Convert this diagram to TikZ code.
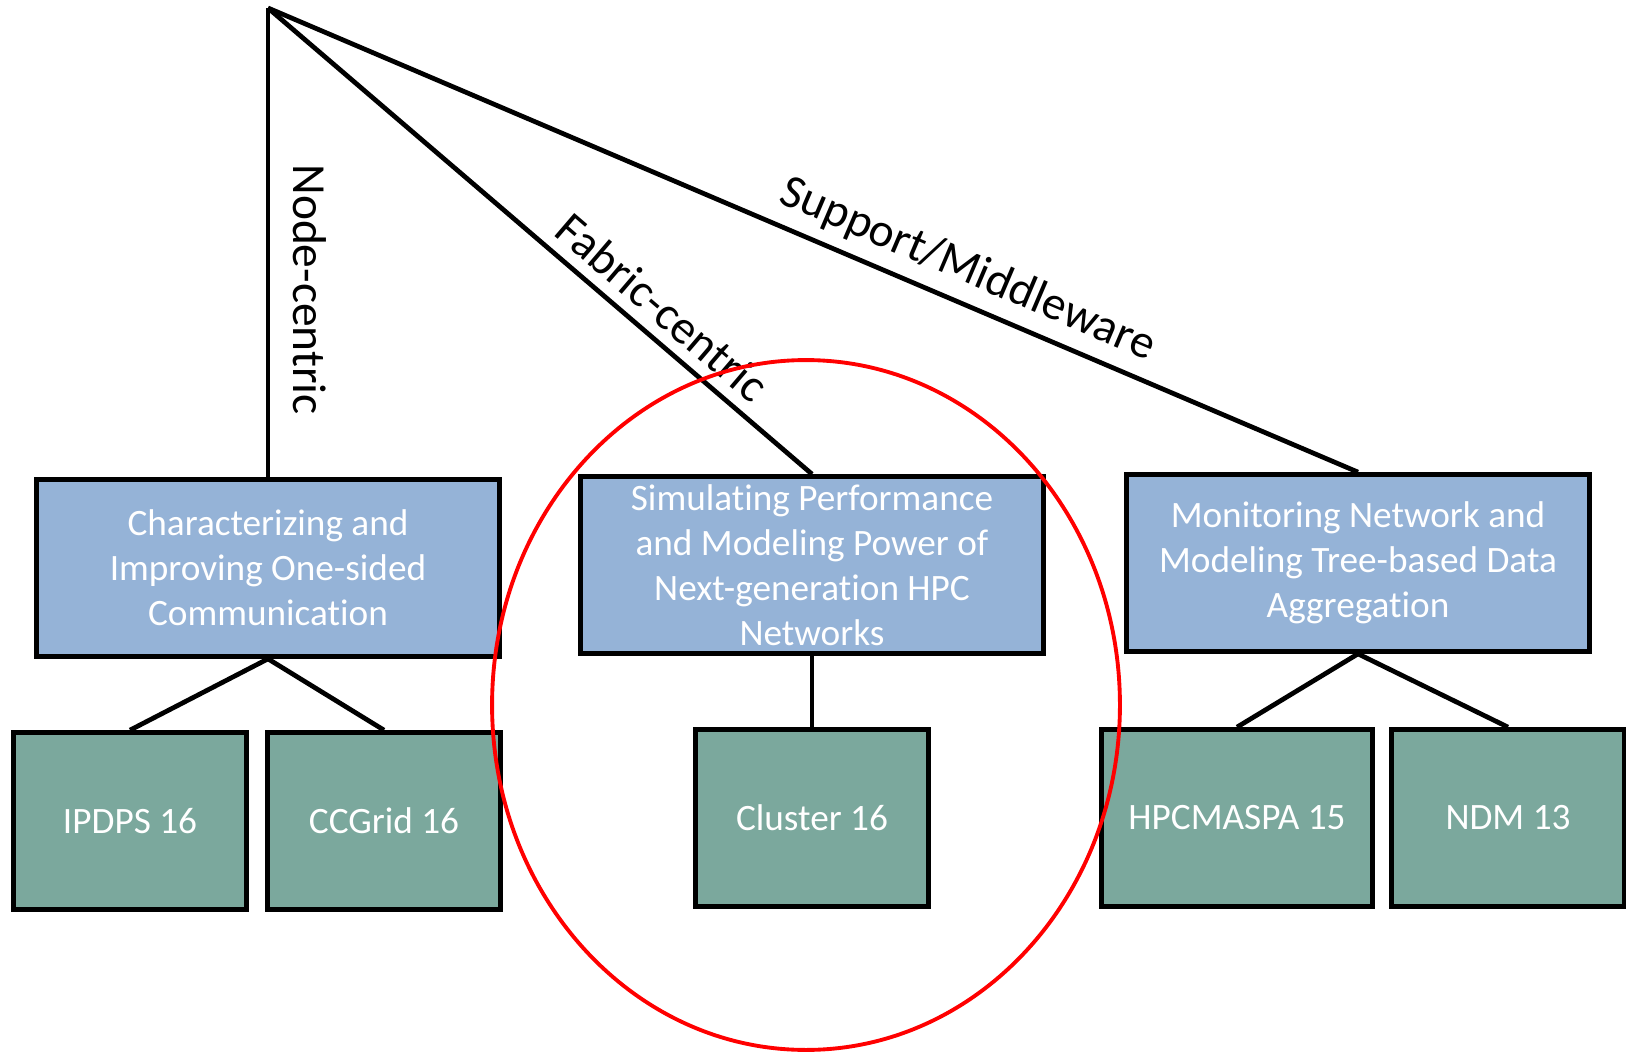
\documentclass[tikz,border=0pt]{standalone}
\usepackage{fontspec}
\setmainfont[Ligatures={NoCommon,NoContextual}, RawFeature={-liga;-clig;-calt;-dlig}]{Carlito}
\usetikzlibrary{shapes.geometric}
\definecolor{topicblue}{HTML}{95B3D7}
\definecolor{venuegreen}{HTML}{7BA89D}
\tikzset{
	topic/.style={draw, line width=2.7pt, fill=topicblue, text=white, align=center,
		minimum width=9.26cm, minimum height=3.54cm, inner sep=0pt,
		font=\fontsize{21.2}{25.6}\selectfont},
	venue/.style={draw, line width=2.7pt, fill=venuegreen, text=white,
		minimum width=4.66cm, minimum height=3.54cm,
		font=\fontsize{21.2}{25.6}\selectfont},
	branch/.style={line width=2.7pt},
	branchlabel/.style={font=\fontsize{27}{31}\selectfont, inner sep=6pt}
}
\begin{document}
\begin{tikzpicture}[x=0.02cm, y=-0.02cm]
			\useasboundingbox (0,0) rectangle (1626,1054);
			%root
			\coordinate (top) at (268,8);
			
			%topics
			\node[topic] (onesided) at (268,568) {Characterizing and\\Improving One-sided\\Communication};
			\node[topic] (simnet) at (812,565) {Simulating Performance\\and Modeling Power of\\Next-generation HPC\\Networks};
			\node[topic] (monitor) at (1358,563) {Monitoring Network and\\Modeling Tree-based Data\\Aggregation};
			
			%venues
			\node[venue] (ipdps) at (130,821) {IPDPS 16};
			\node[venue] (ccgrid) at (384,821) {CCGrid 16};
			\node[venue] (cluster) at (812,818) {Cluster 16};
			\node[venue, minimum width=5.42cm] (hpcmaspa) at (1237,818) {HPCMASPA 15};
			\node[venue] (ndm) at (1508,818) {NDM 13};
			
			%branches
			\draw[branch] (top) -- node[branchlabel, inner ysep=13pt, pos=0.6, rotate=-90, anchor=south] {Node-centric} (onesided.north);
			\draw[branch] (top) -- node[branchlabel, pos=0.69, sloped, above] {Fabric-centric} (simnet.north);
			\draw[branch] (top) -- node[branchlabel, pos=0.63, sloped, above] {Support/Middleware} (monitor.north);
			
			\draw[branch] (onesided.south) -- (ipdps.north);
			\draw[branch] (onesided.south) -- (ccgrid.north);
			\draw[branch] (simnet.south) -- (cluster.north);
			\draw[branch] (monitor.south) -- (hpcmaspa.north);
			\draw[branch] (monitor.south) -- (ndm.north);
			
			%highlight
			\node[ellipse, draw=red, line width=2.2pt, minimum width=12.56cm, minimum height=13.8cm] (focus) at (806,705) {};
		\end{tikzpicture}
\end{document}
